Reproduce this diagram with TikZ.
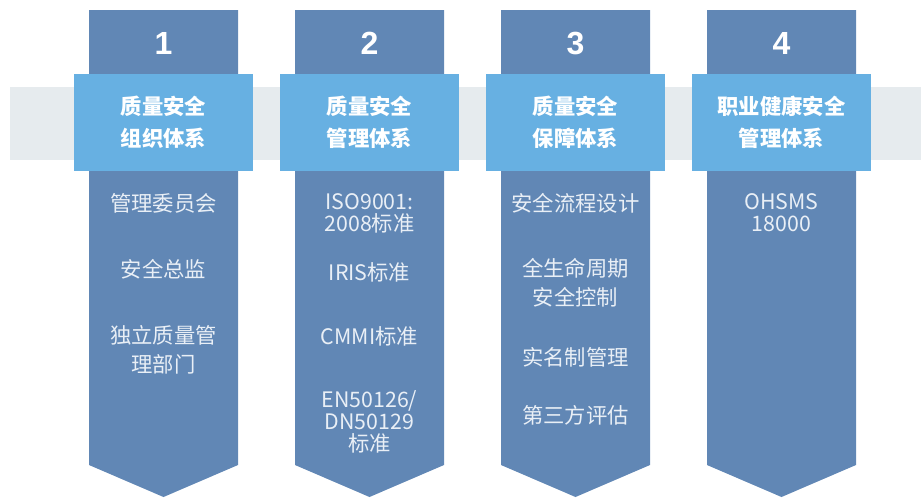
\documentclass[tikz,border=0pt]{standalone}
\usepackage{fontspec}
\setmainfont{Noto Sans CJK SC}
\newfontfamily\numfont{Liberation Sans}
\usepackage{xcolor}
\usepackage{tikz}
\definecolor{colblue}{HTML}{6187B5}
\definecolor{headblue}{HTML}{67B0E2}
\definecolor{bandgray}{HTML}{E6EBEE}
\definecolor{itemwhite}{HTML}{E9EFF6}

\begin{document}
\begin{tikzpicture}[x=0.75pt,y=-0.75pt,
        numtext/.style={text=white,font=\numfont\fontsize{24}{28}\selectfont\bfseries},
        headbox/.style={fill=headblue,text=white,align=center,minimum width=134.25pt,minimum height=72.75pt,inner sep=0pt,font=\fontsize{16}{24}\selectfont\bfseries},
        itemtext/.style={text=itemwhite,align=center,inner sep=0pt,font=\fontsize{16}{22}\selectfont},
        tight/.style={font=\fontsize{16}{16.5}\selectfont}]
        \useasboundingbox (0,0) rectangle (921,497);

        % grey band
        \fill[bandgray] (10,87) rectangle (921,160);

        % columns
        \fill[colblue] (89,10) -- (238,10) -- (238,465) -- (163.5,497) -- (89,465) -- cycle;
        \fill[colblue] (295,10) -- (444,10) -- (444,465) -- (369.5,497) -- (295,465) -- cycle;
        \fill[colblue] (501,10) -- (650,10) -- (650,465) -- (575.5,497) -- (501,465) -- cycle;
        \fill[colblue] (707,10) -- (856,10) -- (856,465) -- (781.5,497) -- (707,465) -- cycle;

        \node[numtext] (n1) at (163.5,43.5) {1};
        \node[numtext] (n2) at (369.5,43.5) {2};
        \node[numtext] (n3) at (575.5,43.5) {3};
        \node[numtext] (n4) at (781.5,43.5) {4};

        \node[headbox] (h1) at (163.5,122.5) {质量安全\\组织体系};
        \node[headbox] (h2) at (369.5,122.5) {质量安全\\管理体系};
        \node[headbox] (h3) at (575.5,122.5) {质量安全\\保障体系};
        \node[headbox] (h4) at (781.5,122.5) {职业健康安全\\管理体系};

        % column 1
        \node[itemtext] (a1) at (163.5,203) {管理委员会};
        \node[itemtext] (a2) at (163.5,269) {安全总监};
        \node[itemtext] (a3) at (163.5,350) {独立质量管\\理部门};

        % column 2
        \node[itemtext,tight] (b1) at (369.5,213) {ISO9001:\\2008标准};
        \node[itemtext] (b2) at (369.5,272) {IRIS标准};
        \node[itemtext] (b3) at (369.5,336) {CMMI标准};
        \node[itemtext,tight] (b4) at (369.5,422) {EN50126/\\DN50129\\标准};

        % column 3
        \node[itemtext] (c1) at (575.5,203) {安全流程设计};
        \node[itemtext] (c2) at (575.5,283) {全生命周期\\安全控制};
        \node[itemtext] (c3) at (575.5,357) {实名制管理};
        \node[itemtext] (c4) at (575.5,415) {第三方评估};

        % column 4
        \node[itemtext,tight] (d1) at (781.5,213) {OHSMS\\18000};
\end{tikzpicture}
\end{document}
